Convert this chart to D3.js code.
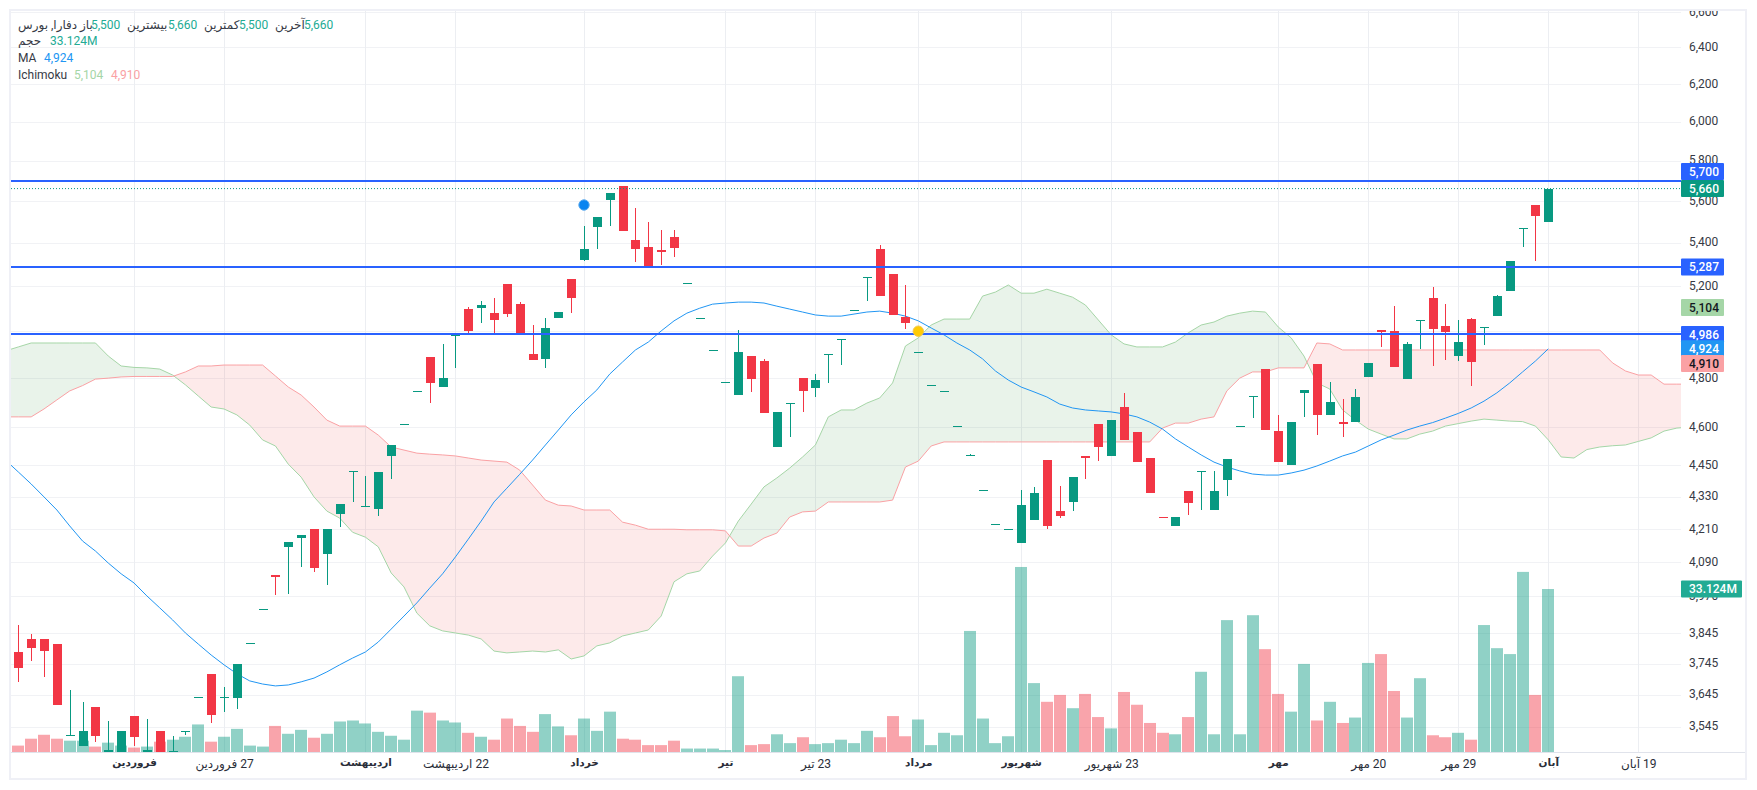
<!DOCTYPE html>
<html>
<head>
<meta charset="utf-8">
<script src="https://cdn.jsdelivr.net/npm/d3@7"></script>
<style>
html, body { margin: 0; padding: 0; background: #fff; }
svg { display: block; }
text { font-family: Roboto, "DejaVu Sans", sans-serif; font-size: 12px; }
</style>
</head>
<body>
<svg id="chart" width="1757" height="790"></svg>
<script>
// candles, oldest first
var opens = [3783,3826,3826,3809,3517,3485,3606,3467,3467,3578,3467,3532,3467,3529,3637,3711,3637,3635,3812,3926,
  4044,4145,4177,4210,4119,4265,4424,4291,4284,4486,4612,4745,4889,4763,4979,5097,5101,5079,5209,5119,
  4902,4881,5058,5233,5319,5474,5604,5673,5412,5380,5366,5427,5212,5056,4918,4783,4730,4893,4872,4521,
  4693,4800,4759,4897,4962,5093,5237,5370,5256,5062,4909,4772,4747,4604,4490,4355,4227,4209,4159,4243,
  4470,4276,4310,4486,4612,4486,4681,4580,4478,4254,4220,4352,4424,4280,4393,4604,4722,4838,4584,4451,
  4739,4859,4649,4620,4620,4805,5005,5001,4796,5045,5146,5023,4893,5053,5014,5066,5178,5465,5580,5500];
var highs = [3873,3843,3826,3809,3660,3622,3606,3562,3532,3578,3568,3532,3516,3532,3637,3711,3670,3744,3812,3926,
  4044,4163,4188,4210,4210,4302,4428,4408,4424,4529,4612,4745,4889,4945,4984,5106,5133,5146,5209,5128,
  5027,5058,5084,5233,5479,5522,5639,5673,5565,5498,5460,5460,5212,5056,4918,4783,5005,4893,4881,4661,
  4697,4800,4817,4902,4966,5093,5242,5389,5256,5205,4909,4772,4747,4604,4495,4355,4227,4209,4355,4367,
  4470,4370,4405,4486,4612,4628,4738,4580,4478,4254,4253,4352,4428,4429,4474,4604,4728,4838,4649,4620,
  4751,4859,4784,4714,4756,4864,5005,5110,4953,5049,5196,5119,5049,5058,5018,5160,5314,5469,5580,5660];
var lows = [3687,3755,3703,3611,3517,3485,3497,3467,3467,3485,3467,3467,3467,3520,3637,3556,3591,3600,3812,3926,
  3975,3979,4073,4056,4010,4217,4310,4291,4258,4397,4612,4745,4697,4763,4843,4988,5036,4988,5062,4993,
  4876,4843,5058,5079,5314,5370,5479,5455,5310,5282,5296,5333,5212,5056,4918,4783,4730,4743,4655,4521,
  4561,4661,4722,4780,4855,5093,5133,5155,5071,5010,4909,4772,4747,4604,4490,4355,4227,4209,4159,4243,
  4209,4250,4276,4397,4466,4486,4549,4462,4344,4251,4220,4262,4280,4280,4333,4604,4636,4588,4464,4451,
  4641,4568,4649,4561,4620,4805,4932,4847,4796,4923,4851,4876,4872,4767,4940,5066,5178,5380,5314,5500];
var closes = [3732,3797,3787,3611,3521,3532,3516,3473,3532,3513,3473,3467,3470,3532,3637,3581,3637,3744,3812,3926,
  4038,4163,4188,4070,4210,4302,4428,4295,4424,4529,4612,4745,4780,4800,4984,5001,5115,5049,5075,4993,
  4876,5014,5084,5146,5370,5522,5639,5455,5370,5282,5356,5375,5212,5056,4918,4783,4910,4796,4655,4661,
  4697,4747,4792,4902,4966,5093,5242,5155,5071,5036,4909,4772,4747,4604,4490,4355,4227,4209,4298,4344,
  4221,4258,4405,4478,4521,4628,4549,4462,4344,4251,4253,4306,4428,4352,4474,4604,4728,4588,4464,4620,
  4751,4649,4701,4612,4722,4864,4997,4847,4945,5049,5010,4997,4953,4868,5018,5155,5314,5469,5527,5660];

// volume in millions
var volumes = [1.3,2.7,3.5,2.7,2.3,2.3,1.1,1.9,1.3,0.9,1.1,2.1,2.5,3.1,5.6,2.1,3.1,4.7,1.3,1.1,
  5.3,3.7,4.5,2.9,3.7,6.2,6.4,5.8,4.1,3.3,2.5,8.4,8.0,6.4,6.0,3.9,3.1,2.5,6.8,5.3,
  4.1,7.7,5.2,3.4,6.8,4.3,8.2,2.7,2.5,1.4,1.4,2.3,0.7,0.7,0.7,0.4,15.4,1.4,1.6,3.6,
  1.8,3.0,1.6,1.8,2.5,1.8,4.3,3.0,7.3,3.2,6.6,1.4,3.9,3.4,24.6,6.8,1.8,3.2,37.6,14.0,
  10.2,11.6,8.9,11.8,7.1,4.8,12.2,9.6,5.9,3.9,3.6,7.1,16.3,3.6,26.8,3.6,27.8,20.9,11.8,8.2,
  17.9,6.4,10.2,5.9,7.0,18.1,19.9,12.4,7.0,15.0,3.4,3.0,3.9,2.5,25.8,21.1,19.9,36.6,11.6,33.124];

// moving average, starts one bar before the first candle
var maValues = [4470,4424,4378,4329,4280,4221,4166,4130,4087,4049,4017,3972,3931,3890,3846,3809,3773,3741,3712,3689,3679,
  3673,3676,3686,3698,3718,3741,3763,3783,3816,3859,3903,3948,3999,4049,4109,4173,4239,4310,4362,4415,
  4470,4529,4588,4649,4702,4751,4817,4868,4919,4953,5001,5045,5079,5101,5119,5124,5128,5128,5124,5110,
  5097,5084,5071,5066,5066,5075,5084,5088,5079,5066,5045,5014,4984,4949,4919,4881,4830,4792,4763,4743,
  4722,4693,4677,4669,4665,4661,4653,4641,4620,4592,4553,4521,4490,4462,4443,4428,4416,4412,4412,4420,
  4431,4447,4466,4486,4501,4525,4549,4568,4588,4604,4618,4636,4655,4677,4705,4739,4780,4826,4872,4924];

// ichimoku spans, start one bar before the first candle and run past the last one
var spanA = [4915,4932,4949,4949,4949,4949,4949,4949,4893,4851,4845,4843,4838,4813,4772,4726,4681,4673,4649,4608,4549,
  4525,4454,4404,4329,4276,4250,4198,4180,4145,4052,4003,3913,3870,3853,3846,3839,3826,3786,3780,3783,
  3786,3783,3790,3760,3770,3803,3813,3836,3846,3856,3903,4021,4049,4059,4112,4159,4239,4302,4367,4401,
  4439,4482,4529,4641,4669,4669,4697,4718,4780,4936,4971,5027,5053,5053,5053,5155,5173,5205,5168,5168,
  5186,5168,5150,5115,5049,4984,4945,4932,4932,4932,4953,4993,5027,5040,5066,5079,5088,5084,5018,4971,
  4893,4780,4755,4669,4628,4592,4572,4553,4553,4572,4584,4604,4614,4624,4632,4628,4624,4622,4604,4549,
  4482,4478,4511,4521,4526,4529,4543,4557,4584,4596,4600];
var spanB = [4641,4641,4641,4673,4710,4747,4769,4796,4800,4805,4807,4807,4807,4807,4826,4851,4851,4855,4855,4855,4855,
  4809,4763,4730,4681,4628,4604,4604,4604,4568,4521,4509,4497,4493,4490,4486,4478,4470,4466,4462,4431,
  4374,4317,4298,4295,4280,4280,4280,4235,4224,4209,4209,4209,4207,4207,4207,4203,4148,4148,4177,4195,
  4254,4273,4276,4310,4310,4310,4310,4310,4317,4443,4466,4525,4541,4541,4541,4541,4541,4541,4541,4541,
  4541,4541,4541,4541,4541,4541,4541,4541,4541,4596,4616,4616,4632,4641,4747,4800,4826,4826,4843,4843,
  4843,4949,4945,4919,4919,4919,4919,4919,4919,4919,4919,4919,4919,4919,4919,4919,4919,4919,4919,4919,
  4919,4919,4919,4919,4864,4830,4813,4813,4775,4775,4775];

var priceTicks = [6600,6400,6200,6000,5800,5600,5400,5200,5000,4800,4600,4450,4330,4210,4090,3970,3845,3745,3645,3545];

var timeTickBars = [9,16,27,34,44,55,62,70,78,85,98,105,112,119,126];
var timeTickLabels = ['فروردین','27 فروردین','اردیبهشت','22 اردیبهشت','خرداد','تیر','23 تیر','مرداد','شهریور','23 شهریور','مهر','20 مهر','29 مهر','آبان','19 آبان'];
var timeTickBold = ['فروردین','اردیبهشت','خرداد','تیر','مرداد','شهریور','مهر','آبان'];

var levels = [5700, 5287, 4986];
var lastPrice = 5660;

var markerBars = [44, 70];
var markerPrices = [5580, 5000];
var markerColors = ['#0a84f0', '#ffcb05'];
var markerEdges = ['#5aa9ee', '#f2c94c'];

var volumeLast = 33.124;

var W = 1757, H = 790;
var plotLeft = 11, plotRight = 1681, plotTop = 11, plotBottom = 752;
var green = '#089981', red = '#f23645', blue = '#2962ff';

var x = d3.scaleLinear().domain([0, 119]).range([18.3, 1548.3]);
var y = d3.scaleLog().domain([6600, 3545]).range([11.9, 726.7]);
var yVol = d3.scaleLinear().domain([0, volumeLast]).range([752, 589]);

var svg = d3.select('#chart');

var defs = svg.append('defs');
defs.append('clipPath').attr('id', 'plot').append('rect')
  .attr('x', plotLeft).attr('y', plotTop).attr('width', plotRight - plotLeft).attr('height', plotBottom - plotTop);
defs.append('clipPath').attr('id', 'scale').append('rect')
  .attr('x', plotRight).attr('y', plotTop).attr('width', 70).attr('height', plotBottom - plotTop);

// outer frame
svg.append('rect').attr('x', 10).attr('y', 10).attr('width', 1736).attr('height', 769)
  .attr('fill', '#fff').attr('stroke', '#eff0f6').attr('stroke-width', 2);

// grid
svg.append('g').selectAll('line').data(priceTicks).join('line')
  .attr('x1', plotLeft).attr('x2', plotRight)
  .attr('y1', function (d) { return Math.round(y(d)) + 0.5; })
  .attr('y2', function (d) { return Math.round(y(d)) + 0.5; })
  .attr('stroke', '#f1f2f5');
svg.append('g').selectAll('line').data(timeTickBars).join('line')
  .attr('x1', function (d) { return Math.round(x(d)) + 0.5; })
  .attr('x2', function (d) { return Math.round(x(d)) + 0.5; })
  .attr('y1', plotTop).attr('y2', plotBottom)
  .attr('stroke', '#eceef2');

var plot = svg.append('g').attr('clip-path', 'url(#plot)');

// ichimoku cloud
var spanBar = function (i) { return i - 1; };
var bars = d3.range(spanA.length);

defs.append('clipPath').attr('id', 'belowA').append('path')
  .attr('d', d3.area().x(function (i) { return x(spanBar(i)); })
    .y0(plotBottom).y1(function (i) { return y(spanA[i]); })(bars));
defs.append('clipPath').attr('id', 'aboveA').append('path')
  .attr('d', d3.area().x(function (i) { return x(spanBar(i)); })
    .y0(plotTop).y1(function (i) { return y(spanA[i]); })(bars));

var cloud = d3.area().x(function (i) { return x(spanBar(i)); })
  .y0(function (i) { return y(spanB[i]); })
  .y1(function (i) { return y(spanA[i]); });

plot.append('g').attr('clip-path', 'url(#belowA)').append('path')
  .attr('d', cloud(bars)).attr('fill', 'rgba(56,142,60,0.11)');
plot.append('g').attr('clip-path', 'url(#aboveA)').append('path')
  .attr('d', cloud(bars)).attr('fill', 'rgba(239,83,80,0.12)');

var spanLine = function (values) {
  return d3.line().x(function (i) { return x(spanBar(i)); }).y(function (i) { return y(values[i]); })(bars);
};
plot.append('path').attr('d', spanLine(spanA)).attr('fill', 'none').attr('stroke', '#a5d6a7').attr('stroke-width', 1);
plot.append('path').attr('d', spanLine(spanB)).attr('fill', 'none').attr('stroke', '#faa1a4').attr('stroke-width', 1);

// volume
var candles = d3.range(opens.length);
var isUp = function (i) { return closes[i] >= opens[i]; };
plot.append('g').selectAll('rect').data(candles).join('rect')
  .attr('x', function (i) { return Math.round(x(i) - 6); })
  .attr('width', 12)
  .attr('y', function (i) { return yVol(volumes[i]); })
  .attr('height', function (i) { return yVol(0) - yVol(volumes[i]); })
  .attr('fill', function (i) { return isUp(i) ? green : red; })
  .attr('fill-opacity', 0.45);

// moving average
plot.append('path')
  .attr('d', d3.line().x(function (d, i) { return x(i - 1); }).y(function (d) { return y(d); })(maValues))
  .attr('fill', 'none').attr('stroke', '#2196f3').attr('stroke-width', 1);

// candles
var candleGroup = plot.append('g').attr('shape-rendering', 'crispEdges');
candleGroup.selectAll('.wick').data(candles).join('rect').attr('class', 'wick')
  .attr('x', function (i) { return Math.round(x(i)) - 0.5; })
  .attr('width', 1)
  .attr('y', function (i) { return y(highs[i]); })
  .attr('height', function (i) { return y(lows[i]) - y(highs[i]); })
  .attr('fill', function (i) { return isUp(i) ? green : red; });
candleGroup.selectAll('.body').data(candles).join('rect').attr('class', 'body')
  .attr('x', function (i) { return Math.round(x(i)) - 4.5; })
  .attr('width', 9)
  .attr('y', function (i) { return y(Math.max(opens[i], closes[i])); })
  .attr('height', function (i) { return Math.max(1, Math.abs(y(opens[i]) - y(closes[i]))); })
  .attr('fill', function (i) { return isUp(i) ? green : red; });

// horizontal levels and last price line
plot.append('g').attr('shape-rendering', 'crispEdges').selectAll('line').data(levels).join('line')
  .attr('x1', plotLeft).attr('x2', plotRight)
  .attr('y1', function (d) { return y(d); }).attr('y2', function (d) { return y(d); })
  .attr('stroke', blue).attr('stroke-width', 2);
plot.append('line')
  .attr('x1', plotLeft).attr('x2', plotRight)
  .attr('y1', y(lastPrice)).attr('y2', y(lastPrice))
  .attr('stroke', green).attr('stroke-dasharray', '1 2');

// signal dots
plot.append('g').selectAll('circle').data(markerBars).join('circle')
  .attr('cx', function (d) { return x(d); })
  .attr('cy', function (d, i) { return y(markerPrices[i]); })
  .attr('r', 5.2)
  .attr('fill', function (d, i) { return markerColors[i]; })
  .attr('stroke', function (d, i) { return markerEdges[i]; })
  .attr('stroke-width', 1);

// axis line under the plot
svg.append('line').attr('x1', plotLeft).attr('x2', 1745).attr('y1', 752.5).attr('y2', 752.5).attr('stroke', '#e0e3eb');

// price axis
var yAxis = d3.axisRight(y).tickValues(priceTicks).tickFormat(d3.format(',')).tickSize(0).tickPadding(8);
var yAxisG = svg.append('g').attr('clip-path', 'url(#scale)').append('g')
  .attr('transform', 'translate(' + plotRight + ',0)').call(yAxis);
yAxisG.select('.domain').remove();
yAxisG.selectAll('text').attr('fill', '#363a45').attr('dy', '0.27em').style('font-family', 'Roboto').style('font-size', '12px');

// time axis
var xAxis = d3.axisBottom(x).tickValues(timeTickBars)
  .tickFormat(function (d, i) { return timeTickLabels[i]; }).tickSize(0).tickPadding(7);
var xAxisG = svg.append('g').attr('transform', 'translate(0,' + plotBottom + ')').call(xAxis);
xAxisG.select('.domain').remove();
var isBold = function (i) { return timeTickBold.indexOf(timeTickLabels[i]) >= 0; };
xAxisG.selectAll('text')
  .attr('fill', '#2a2e39')
  .style('font-family', 'Roboto, "DejaVu Sans", sans-serif')
  .style('font-size', function (d, i) { return isBold(i) ? '10.5px' : '12px'; })
  .style('direction', 'rtl')
  .style('font-weight', function (d, i) { return isBold(i) ? 'bold' : 'normal'; });

// price labels on the scale
var priceLabels = [
  { v: 5700, text: '5,700', fill: blue, color: '#fff', shift: -9 },
  { v: 5660, text: '5,660', fill: green, color: '#fff', shift: 0 },
  { v: 5287, text: '5,287', fill: blue, color: '#fff', shift: 0 },
  { v: 5104, text: '5,104', fill: '#a5d6a7', color: '#131722', shift: 0 },
  { v: 4986, text: '4,986', fill: blue, color: '#fff', shift: 0 },
  { v: 4924, text: '4,924', fill: '#2196f3', color: '#fff', shift: 0 },
  { v: 4910, text: '4,910', fill: '#faa1a4', color: '#131722', shift: 11.5 }
];
var labelG = svg.append('g').selectAll('g').data(priceLabels).join('g')
  .attr('transform', function (d) { return 'translate(' + plotRight + ',' + (y(d.v) + d.shift) + ')'; });
labelG.append('rect').attr('x', 0).attr('y', -8.5).attr('width', 43).attr('height', 17).attr('rx', 1).attr('fill', function (d) { return d.fill; });
labelG.append('text').attr('x', 8).attr('dy', '0.35em').attr('fill', function (d) { return d.color; })
  .style('font-weight', 500).text(function (d) { return d.text; });

// volume label
var volLabel = svg.append('g').attr('transform', 'translate(' + plotRight + ',' + yVol(volumeLast) + ')');
volLabel.append('rect').attr('y', -8.5).attr('width', 61).attr('height', 17).attr('rx', 1).attr('fill', '#22ab94');
volLabel.append('text').attr('x', 8).attr('dy', '0.35em').attr('fill', '#fff').style('font-weight', 500).text('33.124M');

// legend
var legendItems = [
  { x: 18, y: 24.5, text: 'دفارا, بورس', color: '#363a45' },
  { x: 80, y: 24.5, text: 'باز', color: '#363a45' },
  { x: 91, y: 24.5, text: '5,500', color: '#22ab94' },
  { x: 127, y: 24.5, text: 'بیشترین', color: '#363a45' },
  { x: 168, y: 24.5, text: '5,660', color: '#22ab94' },
  { x: 204, y: 24.5, text: 'کمترین', color: '#363a45' },
  { x: 239, y: 24.5, text: '5,500', color: '#22ab94' },
  { x: 275, y: 24.5, text: 'آخرین', color: '#363a45' },
  { x: 304, y: 24.5, text: '5,660', color: '#22ab94' },
  { x: 18, y: 40.5, text: 'حجم', color: '#363a45' },
  { x: 50, y: 40.5, text: '33.124M', color: '#22ab94' },
  { x: 18, y: 57.5, text: 'MA', color: '#363a45' },
  { x: 44, y: 57.5, text: '4,924', color: '#2196f3' },
  { x: 18, y: 74.5, text: 'Ichimoku', color: '#363a45' },
  { x: 74, y: 74.5, text: '5,104', color: '#a5d6a7' },
  { x: 111, y: 74.5, text: '4,910', color: '#faa1a4' }
];
svg.append('g').selectAll('text').data(legendItems).join('text')
  .attr('x', function (d) { return d.x; })
  .attr('y', function (d) { return d.y; })
  .attr('dy', '0.35em')
  .attr('fill', function (d) { return d.color; })
  .text(function (d) { return d.text; });
</script>
</body>
</html>
